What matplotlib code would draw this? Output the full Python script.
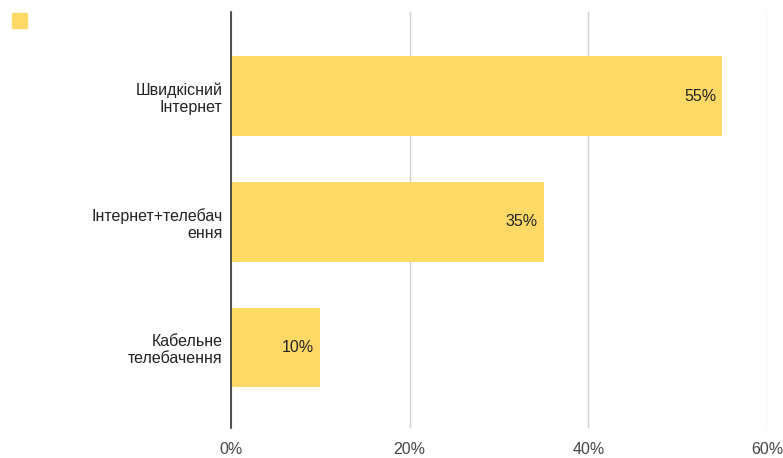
import matplotlib.pyplot as plt
from matplotlib.patches import Rectangle

plt.rcParams['font.family'] = ['Liberation Sans', 'DejaVu Sans']

categories = ['Швидкісний\nІнтернет', 'Інтернет+телебач\nення', 'Кабельне\nтелебачення']
values = [55, 35, 10]
ticks = [0, 20, 40, 60]

bar_color = '#FFD966'

fig = plt.figure(figsize=(7.83, 4.58), dpi=100)
ax = fig.add_axes([0.295, 0.0655, 0.6846, 0.9085])

ypos = list(range(len(categories)))
bars = ax.barh(ypos, values, height=0.635, color=bar_color, zorder=2)

for y, v in zip(ypos, values):
    ax.text(v - 0.7, y, f'{v}%', ha='right', va='center', fontsize=11.5,
            color='#222222', zorder=3)

ax.set_xlim(0, 60)
ax.set_ylim(2.64, -0.67)
ax.set_xticks(ticks)
ax.set_xticklabels([f'{t}%' for t in ticks], fontsize=11.5, color='#444444')
ax.set_yticks(ypos)
ax.set_yticklabels(categories, fontsize=11.5, color='#222222', linespacing=1.2)
ax.tick_params(axis='both', length=0)
ax.tick_params(axis='y', pad=6)
ax.tick_params(axis='x', pad=10)

ax.grid(axis='x', color='#d0d0d0', linewidth=1, zorder=0)
for s in ['top', 'right', 'bottom']:
    ax.spines[s].set_visible(False)
ax.spines['left'].set_color('#333333')
ax.spines['left'].set_linewidth(1.2)
ax.spines['left'].set_zorder(3)

# legend swatch (no label text)
fig.patches.append(Rectangle((12 / 783, 1 - 28 / 458), 15 / 783, 15 / 458,
                             transform=fig.transFigure, color=bar_color))

fig.savefig('out.png', dpi=100)
